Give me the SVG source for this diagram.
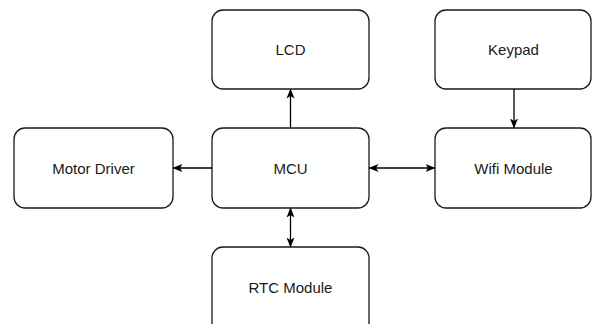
<svg xmlns="http://www.w3.org/2000/svg" width="592" height="324" viewBox="0 0 592 324">
  <style>
    .box { fill: #ffffff; stroke: #1a1a1a; stroke-width: 1.3; }
    .label { font-family: "Liberation Sans", Arial, sans-serif; font-size: 15px; fill: #1a1a1a; text-anchor: middle; dominant-baseline: central; }
    .wire { stroke: #000000; stroke-width: 1.3; fill: none; }
  </style>
  <defs>
    <marker id="head" viewBox="0 0 10 10" refX="9" refY="5" markerWidth="10" markerHeight="10" markerUnits="userSpaceOnUse" orient="auto-start-reverse">
      <path d="M0,1 L10,5 L0,9 L2.5,5 Z" fill="#000000"/>
    </marker>
  </defs>
  <rect width="592" height="324" fill="#ffffff"/>

  <g id="lcd">
    <rect class="box" x="212" y="10" width="157" height="79" rx="11"/>
    <text class="label" x="290.5" y="49.5">LCD</text>
  </g>
  <g id="keypad">
    <rect class="box" x="435" y="10" width="156" height="79" rx="11"/>
    <text class="label" x="513.5" y="49.5">Keypad</text>
  </g>
  <g id="motor-driver">
    <rect class="box" x="14" y="128" width="159" height="80" rx="11"/>
    <text class="label" x="93.5" y="168">Motor Driver</text>
  </g>
  <g id="mcu">
    <rect class="box" x="212" y="128" width="157" height="80" rx="11"/>
    <text class="label" x="290.5" y="168">MCU</text>
  </g>
  <g id="wifi-module">
    <rect class="box" x="435" y="128" width="156" height="80" rx="11"/>
    <text class="label" x="513.5" y="168">Wifi Module</text>
  </g>
  <g id="rtc-module">
    <rect class="box" x="212" y="247" width="157" height="90" rx="11"/>
    <text class="label" x="290.5" y="287">RTC Module</text>
  </g>

  <g id="connectors">
    <line class="wire" x1="290.5" y1="128" x2="290.5" y2="89.5" marker-end="url(#head)"/>
    <line class="wire" x1="212" y1="168" x2="173.5" y2="168" marker-end="url(#head)"/>
    <line class="wire" x1="369.5" y1="168" x2="434.5" y2="168" marker-start="url(#head)" marker-end="url(#head)"/>
    <line class="wire" x1="514" y1="89" x2="514" y2="127.5" marker-end="url(#head)"/>
    <line class="wire" x1="290.5" y1="208.5" x2="290.5" y2="246.5" marker-start="url(#head)" marker-end="url(#head)"/>
  </g>
</svg>
